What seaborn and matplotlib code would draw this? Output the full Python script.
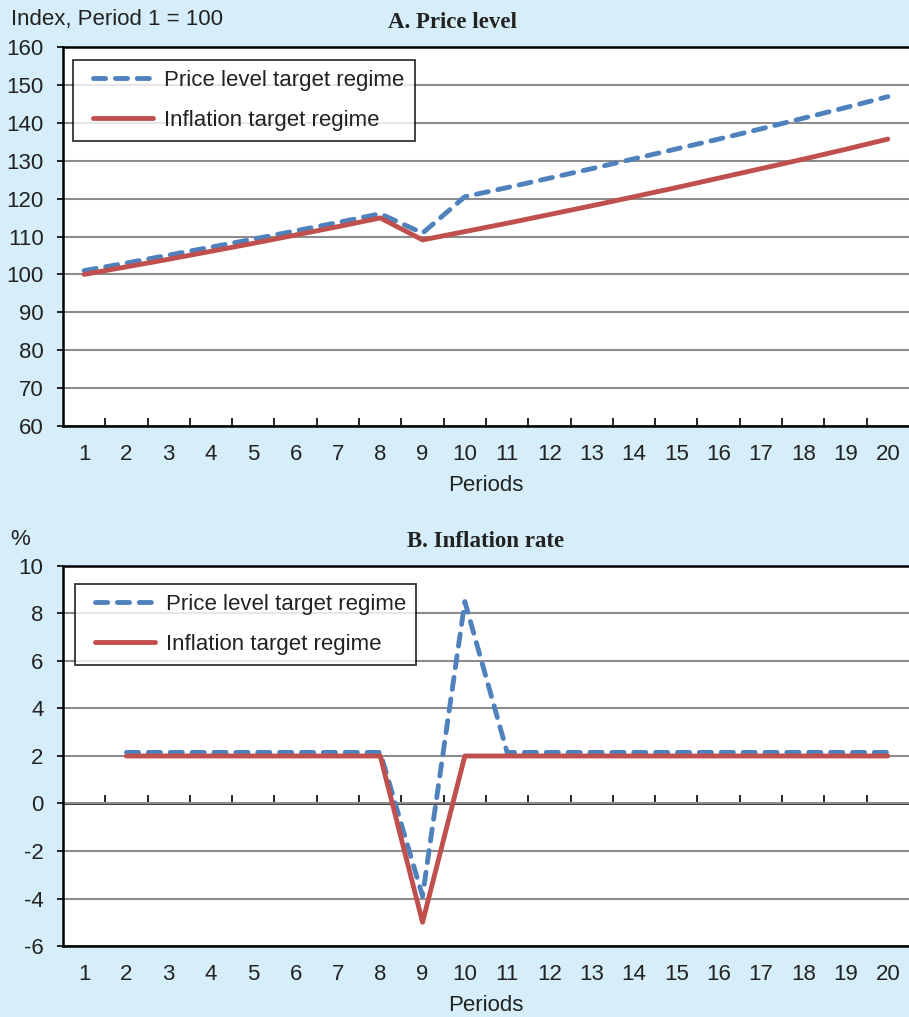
import numpy as np
import pandas as pd
import matplotlib
matplotlib.use("Agg")
import matplotlib.pyplot as plt
from matplotlib.lines import Line2D
from matplotlib.legend_handler import HandlerLine2D
import seaborn as sns

periods = list(range(1, 21))
price_plt = [101.0, 103.0, 105.1, 107.2, 109.3, 111.5, 113.7, 116.0, 110.9, 120.5,
             122.9, 125.4, 127.9, 130.5, 133.1, 135.7, 138.4, 141.2, 144.0, 146.9]
price_it = [100.0, 102.0, 104.0, 106.1, 108.2, 110.4, 112.6, 114.9, 109.1, 111.3,
            113.5, 115.8, 118.1, 120.5, 122.9, 125.4, 127.9, 130.4, 133.0, 135.7]
infl_plt = [np.nan, 2.15, 2.15, 2.15, 2.15, 2.15, 2.15, 2.15, -3.9, 8.5,
            2.15, 2.15, 2.15, 2.15, 2.15, 2.15, 2.15, 2.15, 2.15, 2.15]
infl_it = [np.nan, 2.0, 2.0, 2.0, 2.0, 2.0, 2.0, 2.0, -5.0, 2.0,
           2.0, 2.0, 2.0, 2.0, 2.0, 2.0, 2.0, 2.0, 2.0, 2.0]
series_names = ["Price level target regime", "Inflation target regime"]
titles = ["A. Price level", "B. Inflation rate"]
unit_labels = ["Index, Period 1 = 100", "%"]

BG = "#D5EEF9"
BLUE = "#4F81BD"
RED = "#C0504D"
TXT = "#222222"

sns.set_theme(style="white")
plt.rcParams["font.family"] = ["Liberation Sans", "DejaVu Sans"]

fig = plt.figure(figsize=(9.09, 10.17), dpi=100, facecolor=BG)
axA = fig.add_axes([0.0693, 0.5811, 0.9307, 0.3727])
axB = fig.add_axes([0.0693, 0.0698, 0.9307, 0.3737])

dfA = pd.DataFrame({"Period": periods, "plt": price_plt, "it": price_it})
dfB = pd.DataFrame({"Period": periods, "plt": infl_plt, "it": infl_it})

FS = 16

for ax, df, ylim, yt, ypos, anchor in [
    (axA, dfA, (60, 160), np.arange(60, 161, 10), None, (0.012, 0.966)),
    (axB, dfB, (-6, 10), np.arange(-6, 11, 2), 0.375, (0.014, 0.953)),
]:
    ax.set_facecolor("white")
    sns.lineplot(data=df, x="Period", y="plt", ax=ax, color=BLUE, lw=3.5,
                 label=series_names[0])
    sns.lineplot(data=df, x="Period", y="it", ax=ax, color=RED, lw=3.5,
                 label=series_names[1])
    ax.lines[0].set_dashes([2.5, 2.0])
    ax.lines[0].set_dash_capstyle("round")
    ax.lines[1].set_solid_capstyle("round")
    ax.set_xlim(0.5, 20.5)
    ax.set_ylim(*ylim)
    ax.set_yticks(yt)
    ax.set_yticklabels([str(v) for v in yt], fontsize=FS, color=TXT)
    ax.set_xticks(periods)
    ax.set_xticklabels([str(p) for p in periods], fontsize=FS, color=TXT)
    ax.set_xticks(np.arange(1.5, 20.5, 1), minor=True)
    ax.yaxis.grid(True, color="#8C8C8C", lw=1.5)
    ax.set_axisbelow(True)
    ax.set_ylabel("")
    ax.set_xlabel("Periods", fontsize=FS, color=TXT, labelpad=7)
    for s in ["left", "bottom", "top"]:
        ax.spines[s].set_visible(True)
        ax.spines[s].set_color("black")
        ax.spines[s].set_linewidth(1.8)
    ax.spines["right"].set_visible(False)
    ax.tick_params(axis="y", which="major", left=True, direction="out", length=4,
                   width=1.2, color="black", pad=10)
    ax.tick_params(axis="x", which="major", bottom=False, length=0, pad=13)
    if ypos is None:
        ax.tick_params(axis="x", which="minor", bottom=True, direction="in",
                       length=6, width=1.2, color="black")
    else:
        ax.tick_params(axis="x", which="minor", bottom=False)
        sec = ax.secondary_xaxis(ypos)
        sec.set_xticks(np.arange(1.5, 20.5, 1))
        sec.tick_params(axis="x", direction="in", length=6, width=1.2,
                        color="black", labelbottom=False, labeltop=False,
                        bottom=True, top=False)
        sec.spines["bottom"].set_color("black")
        sec.spines["bottom"].set_linewidth(1.8)
        sec.spines["top"].set_visible(False)
    ax.set_title("")
    leg = ax.legend(loc="upper left", bbox_to_anchor=anchor, fontsize=FS,
                    frameon=True, fancybox=False, edgecolor="black",
                    handlelength=3.15, handletextpad=0.5, borderpad=0.45,
                    labelspacing=0.85, borderaxespad=0.0,
                    handler_map={Line2D: HandlerLine2D(xpad=0.45)})
    leg.get_frame().set_linewidth(1.3)
    for t in leg.get_texts():
        t.set_color(TXT)

fig.text(0.498, 0.978, titles[0], ha="center", va="center", fontsize=FS + 0.5,
         fontweight="bold", family=["Liberation Serif", "DejaVu Serif"], color=TXT)
fig.text(0.534, 0.468, titles[1], ha="center", va="center", fontsize=FS + 0.5,
         fontweight="bold", family=["Liberation Serif", "DejaVu Serif"], color=TXT)
fig.text(0.012, 0.981, unit_labels[0], ha="left", va="center", fontsize=FS,
         color=TXT)
fig.text(0.011, 0.470, unit_labels[1], ha="left", va="center", fontsize=FS,
         color=TXT)

fig.savefig("out.png", dpi=100, facecolor=BG)
